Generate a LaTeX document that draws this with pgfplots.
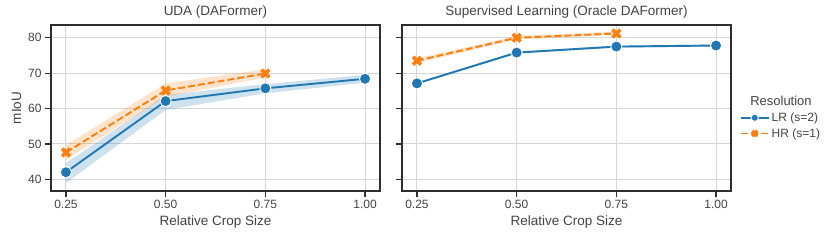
\documentclass[border=0pt]{standalone}
\usepackage{pgfplots}
\pgfplotsset{compat=1.18}
\usepackage{fontspec}
\setmainfont{Liberation Sans}
\definecolor{sblue}{HTML}{1F77B4}
\definecolor{sorange}{HTML}{FF7F0E}
\definecolor{frame}{HTML}{2E2E2E}
\definecolor{gridc}{HTML}{D6D6D6}
\pgfplotsset{
  base/.style={
    scale only axis, width=329pt, height=166pt,
    xmin=0.2125, xmax=1.0375, ymin=36.7, ymax=83.6,
    xtick={0.25,0.5,0.75,1.0}, ytick={40,50,60,70,80},
    xticklabel style={/pgf/number format/.cd,fixed,fixed zerofill,precision=2},
    /pgf/number format/assume math mode=true,
    tick label style={font=\fontsize{12}{14}\selectfont, text=frame!90},
    label style={font=\fontsize{13.5}{15}\selectfont, text=frame!90},
    title style={font=\fontsize{13.5}{15}\selectfont, text=frame!90, yshift=-3pt},
    xlabel={Relative Crop Size},
    grid=major, major grid style={gridc, line width=1pt},
    axis line style={frame, line width=1.2pt},
    tick style={frame, line width=1.2pt},
    tick align=outside, tick pos=left, major tick length=6pt,
  },
  lr/.style={sblue, line width=1.9pt, mark=*, mark size=5.6pt, mark options={solid, fill=sblue, draw=white, line width=0.9pt}},
  hr/.style={sorange, line width=1.9pt, dashed, dash pattern=on 7pt off 3pt, mark=x, mark size=5.5pt, mark options={solid, line width=3.6pt, draw=sorange}},
}
\begin{document}
\begin{tikzpicture}
\path[use as bounding box] (0,0) rectangle (831pt,240pt);
\begin{axis}[base, at={(51pt,49pt)}, anchor=south west, title={UDA (DAFormer)}, ylabel={mIoU}]
\addplot[fill=sblue, fill opacity=0.22, draw=none, forget plot] coordinates {(0.25,44.6) (0.5,63.8) (0.75,66.9) (1.0,69.5) (1.0,67.3) (0.75,64.3) (0.5,59.6) (0.25,39.0)} -- cycle;
\addplot[fill=sorange, fill opacity=0.22, draw=none, forget plot] coordinates {(0.25,49.7) (0.5,67.1) (0.75,71.1) (0.75,68.8) (0.5,63.3) (0.25,45.5)} -- cycle;
\addplot[lr] coordinates {(0.25,42.0) (0.5,62.1) (0.75,65.7) (1.0,68.4)};
\addplot[hr] coordinates {(0.25,47.6) (0.5,65.1) (0.75,69.9)};
\end{axis}
\begin{axis}[base, at={(402pt,49pt)}, anchor=south west, title={Supervised Learning (Oracle DAFormer)}, yticklabels={},
  legend style={at={(1.02,0.485)}, anchor=north west, draw=none, fill=none, font=\fontsize{12}{14}\selectfont, row sep=1.5pt, text=frame!90, inner xsep=2pt, inner ysep=0pt},
  legend cell align=left,
  legend image code/.code={\draw[#1, mark repeat=2, mark phase=2, mark size=3.6pt] plot coordinates {(0pt,0pt) (14pt,0pt) (28pt,0pt)};}]
\addplot[fill=sorange, fill opacity=0.22, draw=none, forget plot] coordinates {(0.25,74.2) (0.5,80.5) (0.75,81.7) (0.75,80.8) (0.5,79.5) (0.25,72.8)} -- cycle;
\addplot[fill=sblue, fill opacity=0.22, draw=none, forget plot] coordinates {(0.25,67.4) (0.5,76.1) (0.75,77.8) (1.0,78.1) (1.0,77.5) (0.75,77.2) (0.5,75.5) (0.25,66.8)} -- cycle;
\addplot[lr] coordinates {(0.25,67.1) (0.5,75.8) (0.75,77.5) (1.0,77.8)};
\addlegendentry{LR (s=2)}
\addplot[hr, mark options={solid, line width=3.6pt, draw=sorange}] coordinates {(0.25,73.5) (0.5,80.0) (0.75,81.2)};
\addlegendentry{HR (s=1)}
\end{axis}
\node[font=\fontsize{13}{15}\selectfont, text=frame!90] at (781pt,139pt) {Resolution};
\end{tikzpicture}
\end{document}
